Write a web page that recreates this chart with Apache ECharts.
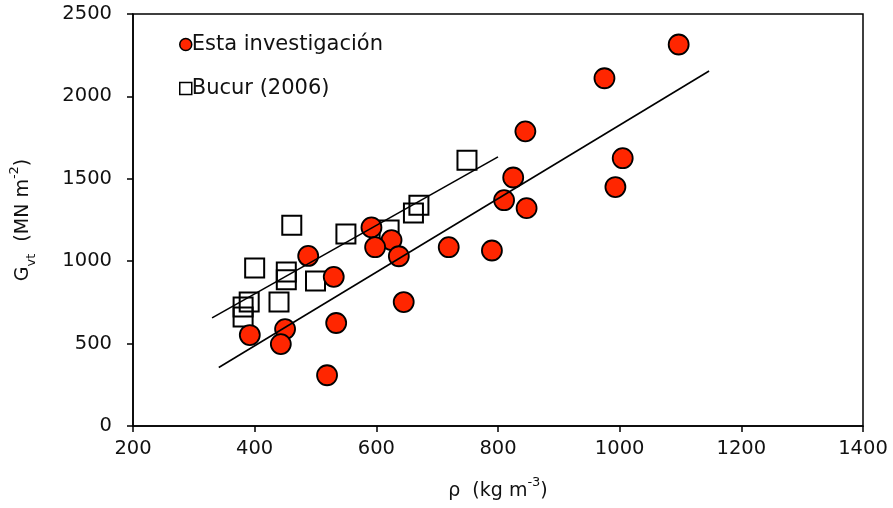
<!DOCTYPE html>
<html>
<head>
<meta charset="utf-8">
<script src="https://cdn.jsdelivr.net/npm/echarts@6/dist/echarts.min.js"></script>
<style>html,body{margin:0;padding:0;background:#fff}#c{width:893px;height:508px}</style>
</head>
<body>
<div id="c"></div>
<script>
// Esta investigación (rho, Gvt)
var estaX = [1097, 975, 845, 1005, 825, 993, 810, 847, 592, 625, 598, 719, 790, 637, 488, 530, 645, 534, 450, 392, 443, 519];
var estaY = [2315, 2110, 1788, 1625, 1508, 1450, 1370, 1322, 1205, 1128, 1085, 1085, 1065, 1030, 1032, 905, 752, 625, 588, 552, 497, 308];
// Bucur (2006)
var bucurX = [461, 550, 621, 661, 670, 749, 400, 452, 452, 500, 391, 440, 381, 381];
var bucurY = [1218, 1165, 1190, 1293, 1340, 1613, 958, 935, 887, 880, 752, 752, 722, 662];
// Trend lines (end points)
var estaLineX = [341, 1147];
var estaLineY = [355, 2154];
var bucurLineX = [330, 800];
var bucurLineY = [656, 1633];
// Axis ticks
var xTicks = [200, 400, 600, 800, 1000, 1200, 1400];
var yTicks = [0, 500, 1000, 1500, 2000, 2500];
var seriesNames = ['Esta investigación', 'Bucur (2006)'];

function zip(a, b) { return a.map(function (v, i) { return [v, b[i]]; }); }

var FONT = 'DejaVu Sans';
var TXT = '#111';
var chart = echarts.init(document.getElementById('c'), null, { renderer: 'canvas' });
var base = { fontFamily: FONT, fontSize: 19, color: TXT, lineHeight: 30 };
var sub = { fontFamily: FONT, fontSize: 13, color: TXT, lineHeight: 17, verticalAlign: 'bottom' };
var sup = { fontFamily: FONT, fontSize: 13, color: TXT, lineHeight: 19, verticalAlign: 'top' };

chart.setOption({
  animation: false,
  backgroundColor: '#fff',
  grid: { left: 133, right: 30, top: 14, bottom: 82, show: true, borderColor: '#000', borderWidth: 1.5, backgroundColor: 'transparent', containLabel: false, outerBoundsMode: 'none' },
  legend: {
    orient: 'vertical', left: 174, top: 29, itemWidth: 12, itemHeight: 12, itemGap: 23,
    textStyle: { fontFamily: FONT, fontSize: 21, color: TXT, padding: [0, 0, 0, -5] },
    data: [
      { name: seriesNames[0], icon: 'circle', itemStyle: { color: '#ff2600', borderColor: '#000', borderWidth: 1.5 } },
      { name: seriesNames[1], icon: 'rect', itemStyle: { color: '#fff', borderColor: '#000', borderWidth: 1.5 } }
    ]
  },
  xAxis: {
    type: 'value', min: xTicks[0], max: xTicks[xTicks.length - 1], interval: 200,
    name: '{b|ρ  (kg m}{sup|-3}{b|)}', nameLocation: 'middle', nameGap: 50,
    nameTextStyle: { rich: { b: base, sup: sup } },
    axisLine: { show: true, onZero: false, lineStyle: { color: '#000', width: 1.5 } },
    axisTick: { show: true, inside: false, length: 6, lineStyle: { color: '#000', width: 1.5 } },
    axisLabel: { margin: 13, fontFamily: FONT, fontSize: 19.5, color: TXT, formatter: function (v) { return String(v); } },
    splitLine: { show: false }
  },
  yAxis: {
    type: 'value', min: yTicks[0], max: yTicks[yTicks.length - 1], interval: 500,
    name: '{b|G}{sub|vt}{b|  (MN m}{sup|-2}{b|)}', nameLocation: 'middle', nameGap: 95, nameRotate: 90,
    nameTextStyle: { rich: { b: base, sub: sub, sup: sup } },
    axisLine: { show: true, onZero: false, lineStyle: { color: '#000', width: 1.5 } },
    axisTick: { show: true, inside: false, length: 6, lineStyle: { color: '#000', width: 1.5 } },
    axisLabel: { margin: 21, fontFamily: FONT, fontSize: 19.5, color: TXT, formatter: function (v) { return String(v); } },
    splitLine: { show: false }
  },
  series: [
    {
      name: seriesNames[1], type: 'scatter', symbol: 'rect', symbolSize: 19, z: 2,
      itemStyle: { color: 'rgba(255,255,255,0)', borderColor: '#000', borderWidth: 2, opacity: 1 },
      data: zip(bucurX, bucurY)
    },
    {
      name: seriesNames[0], type: 'scatter', symbol: 'circle', symbolSize: 20, z: 3,
      itemStyle: { color: '#ff2600', borderColor: '#000', borderWidth: 1.8, opacity: 1 },
      data: zip(estaX, estaY)
    },
    {
      name: 'lineEsta', type: 'line', showSymbol: false, symbol: 'none', z: 5, silent: true,
      lineStyle: { color: '#000', width: 1.6 }, data: zip(estaLineX, estaLineY)
    },
    {
      name: 'lineBucur', type: 'line', showSymbol: false, symbol: 'none', z: 5, silent: true,
      lineStyle: { color: '#000', width: 1.6 }, data: zip(bucurLineX, bucurLineY)
    }
  ]
});
</script>
</body>
</html>
